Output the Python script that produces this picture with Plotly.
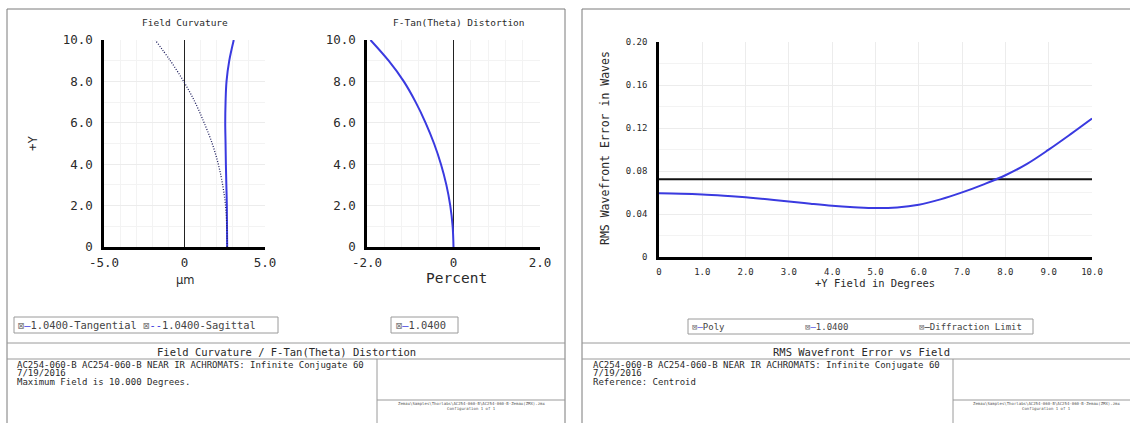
import plotly.graph_objects as go

# ---- data -------------------------------------------------------------
field_y = [0, 1, 2, 3, 4, 5, 6, 7, 8, 9, 10]            # +Y field (deg)
tangential_um = [2.65, 2.64, 2.63, 2.60, 2.57, 2.55, 2.53, 2.55, 2.61, 2.78, 3.06]
sagittal_um = [2.65, 2.63, 2.55, 2.37, 2.10, 1.72, 1.22, 0.65, -0.05, -0.88, -1.82]
distortion_pct = [0.0, -0.02, -0.075, -0.165, -0.29, -0.45, -0.645, -0.875, -1.15, -1.50, -1.92]

rms_field_deg = [0, 0.5, 1, 1.5, 2, 2.5, 3, 3.5, 4, 4.5, 5,
                 5.5, 6, 6.5, 7, 7.5, 8, 8.5, 9, 9.5, 10]
rms_poly_waves = [0.0594, 0.0591, 0.0584, 0.0572, 0.0557, 0.0539, 0.0519, 0.0498, 0.0479, 0.0466, 0.0457,
                  0.0463, 0.0488, 0.0538, 0.0603, 0.0678, 0.0762, 0.0868, 0.1000, 0.1142, 0.1289]
diffraction_limit_waves = [0.0726, 0.0726]
diffraction_field_deg = [0, 10]

fc_xticks = [-5, 0, 5]
fc_xlabels = ["-5.0", "0", "5.0"]
fy_ticks = [0, 2, 4, 6, 8, 10]
fy_labels = ["0", "2.0", "4.0", "6.0", "8.0", "10.0"]
dist_xticks = [-2, 0, 2]
dist_xlabels = ["-2.0", "0", "2.0"]
rms_xticks = [0, 1, 2, 3, 4, 5, 6, 7, 8, 9, 10]
rms_xlabels = ["0", "1.0", "2.0", "3.0", "4.0", "5.0", "6.0", "7.0", "8.0", "9.0", "10.0"]
rms_yticks = [0, 0.04, 0.08, 0.12, 0.16, 0.20]
rms_ylabels = ["0", "0.04", "0.08", "0.12", "0.16", "0.20"]

# ---- page geometry helpers (pixels -> paper) --------------------------
W, H = 1130, 423
MONO = "DejaVu Sans Mono"


def px(x):
    return x / W


def py(y):
    return 1 - y / H


BLUE = "#3a3ae0"
TXT = "#2a2a2a"

fig = go.Figure(layout=dict(template="none"))

fig.add_trace(go.Scatter(x=tangential_um, y=field_y, mode="lines", line_shape="spline",
                         line=dict(color=BLUE, width=2), xaxis="x", yaxis="y"))
fig.add_trace(go.Scatter(x=sagittal_um, y=field_y, mode="lines", line_shape="spline",
                         line=dict(color="#202060", width=1.3, dash="1px,1.6px"), xaxis="x", yaxis="y"))
fig.add_trace(go.Scatter(x=distortion_pct, y=field_y, mode="lines", line_shape="spline",
                         line=dict(color=BLUE, width=2), xaxis="x2", yaxis="y2"))
fig.add_trace(go.Scatter(x=diffraction_field_deg, y=diffraction_limit_waves, mode="lines",
                         line=dict(color="#111111", width=2), xaxis="x3", yaxis="y3"))
fig.add_trace(go.Scatter(x=rms_field_deg, y=rms_poly_waves, mode="lines", line_shape="spline",
                         line=dict(color=BLUE, width=2), xaxis="x3", yaxis="y3"))

GRID = "#ececec"
MINOR = "#f3f3f3"


def axis(domain, rng, tickvals, ticktext, size, minor_dtick, anchor, zeroline=False, standoff=4):
    return dict(domain=domain, range=rng, anchor=anchor, automargin=False,
                tickmode="array", tickvals=tickvals, ticktext=ticktext,
                showline=True, linecolor="#000000", linewidth=2.5, ticks="",
                showgrid=True, gridcolor=GRID, gridwidth=1,
                minor=dict(dtick=minor_dtick, showgrid=True, gridcolor=MINOR, ticks=""),
                zeroline=zeroline, zerolinecolor="#222222", zerolinewidth=1,
                tickfont=dict(family=MONO, size=size, color=TXT),
                ticklabelstandoff=standoff, fixedrange=True)


fig.update_layout(
    width=W, height=H, margin=dict(l=0, r=0, t=0, b=0, pad=0), autosize=False,
    paper_bgcolor="white", plot_bgcolor="white", showlegend=False,
    xaxis=axis([px(104), px(265)], [-5, 5], fc_xticks, fc_xlabels, 12.5, 1, "y", zeroline=True, standoff=2),
    yaxis=axis([py(247), py(40)], [0, 10], fy_ticks, fy_labels, 12.5, 1, "x", standoff=6),
    xaxis2=axis([px(367), px(540)], [-2, 2], dist_xticks, dist_xlabels, 12.5, 0.4, "y2", zeroline=True, standoff=2),
    yaxis2=axis([py(247), py(40)], [0, 10], fy_ticks, fy_labels, 12.5, 1, "x2", standoff=6),
    xaxis3=axis([px(659), px(1092)], [0, 10], rms_xticks, rms_xlabels, 9, 1, "y3", standoff=4),
    yaxis3=axis([py(257.3), py(42)], [0, 0.2], rms_yticks, rms_ylabels, 9, 0.02, "x3", standoff=7),
)

shapes = []
annotations = []


def line(x0, y0, x1, y1, color="#8a8a8a", width=1):
    shapes.append(dict(type="line", xref="paper", yref="paper", x0=px(x0), y0=py(y0),
                       x1=px(x1), y1=py(y1), line=dict(color=color, width=width)))


def rect(x0, y0, x1, y1, color="#9a9a9a", width=1):
    shapes.append(dict(type="rect", xref="paper", yref="paper", x0=px(x0), y0=py(y0),
                       x1=px(x1), y1=py(y1), line=dict(color=color, width=width)))


def text(x, y, s, size, anchor="center", color=TXT, angle=0, family=MONO):
    annotations.append(dict(xref="paper", yref="paper", x=px(x), y=py(y), text=s,
                            showarrow=False, xanchor=anchor, yanchor="middle", textangle=angle,
                            borderpad=0, font=dict(family=family, size=size, color=color)))


EDGE_R, EDGE_B = W, H
FRAME = "#7a7a7a"
# panel frames (they run off the bottom / right edge of the page)
line(7, 9, 565, 9, FRAME)
line(7, 9, 7, EDGE_B, FRAME)
line(565, 9, 565, EDGE_B, FRAME)
line(582, 9, EDGE_R, 9, FRAME)
line(582, 9, 582, EDGE_B, FRAME)

# footer blocks
for x0, x1, div in [(7, 565, 377), (582, EDGE_R, 953)]:
    line(x0, 343, x1, 343, color="#9a9a9a")
    line(x0, 359, x1, 359, color="#9a9a9a")
    line(div, 359, div, EDGE_B, color="#9a9a9a")
    line(div, 400, x1, 400, color="#9a9a9a")

# legend boxes
rect(14, 317, 278, 333)
rect(391, 317, 458, 333)
rect(688, 319, 1033, 334)

BOX = "<span style='color:#777'>⊠</span>"
text(17, 325, BOX + "<span style='color:#3a3ae0'>—</span>1.0400-Tangential "
     + BOX + "<span style='color:#3a3ae0'>--</span>1.0400-Sagittal", 10.4, anchor="left", color="#444")
text(395, 325, BOX + "<span style='color:#3a3ae0'>—</span>1.0400", 10.4, anchor="left", color="#444")
text(691, 326.5, BOX + "<span style='color:#3a3ae0'>—</span>Poly", 9, anchor="left", color="#444")
text(804, 326.5, BOX + "<span style='color:#3a3ae0'>—</span>1.0400", 9, anchor="left", color="#444")
text(918, 326.5, BOX + "<span style='color:#111'>—</span>Diffraction Limit", 9, anchor="left", color="#444")

# plot titles and axis titles
text(185, 23, "Field Curvature", 9.5)
text(459, 23, "F-Tan(Theta) Distortion", 9.5)
text(33, 143, "+Y", 12.5, angle=-90)
text(185, 280, "µm", 11.5, family="DejaVu Sans")
text(457, 278, "Percent", 14.5)
text(605, 148, "RMS Wavefront Error in Waves", 11.5, angle=-90)
text(875, 283, "+Y Field in Degrees", 10.5)

# footer text
text(286, 352, "Field Curvature / F-Tan(Theta) Distortion", 10.5)
text(861, 352, "RMS Wavefront Error vs Field", 10.5)
for x0, third in [(16, "Maximum Field is 10.000 Degrees."), (592, "Reference: Centroid")]:
    text(x0, 364.5, "AC254-060-B AC254-060-B NEAR IR ACHROMATS: Infinite Conjugate 60", 9, anchor="left")
    text(x0, 373, "7/19/2016", 9, anchor="left")
    text(x0, 381.5, third, 9, anchor="left")
LENS_FILE = "Zemax\\Samples\\Thorlabs\\AC254-060-B\\AC254-060-B-Zemax(ZMX).zmx"
text(471, 403.5, LENS_FILE, 4, color="#555")
text(471, 408, "Configuration 1 of 1", 4, color="#555")
text(1046, 403.5, LENS_FILE, 4, color="#555")
text(1046, 408, "Configuration 1 of 1", 4, color="#555")

fig.update_layout(shapes=shapes, annotations=annotations)
fig.write_html("out.html")
